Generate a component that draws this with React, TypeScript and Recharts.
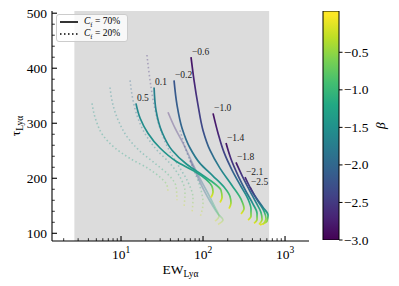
import React from 'react';
import { LineChart, Line, XAxis, YAxis, ReferenceArea, BarChart, Bar, Label } from 'recharts';

const FONT = '"Liberation Serif", "DejaVu Serif", serif';

// C_f = 70% tracks (solid), one label per track at its starting point
const solidLabels = ['0.5', '0.1', '−0.2', '−0.6', '−1.0', '−1.4', '−1.8', '−2.1', '−2.5'];
const solidEW = [
  [15.2, 17.1, 21.3, 29.9, 46.9, 77.7, 108.8, 128.8, 132.5, 125.2],
  [25.3, 26.7, 31.6, 41.9, 63.8, 100, 136.2, 165.8, 170.6, 161.2],
  [44.3, 48.2, 55.5, 69.4, 91.9, 132.5, 180.3, 213.3, 219.3, 207.5],
  [71.4, 77.7, 86.9, 100, 121.6, 161.2, 225.7, 290.6, 316.2, 290.6],
  [132.5, 152.4, 180.3, 225.7, 290.6, 354, 384.6, 384.6, 354],
  [190.7, 219.3, 267.3, 334.3, 407.4, 455.6, 455.6, 418.8],
  [252.2, 299.2, 363.9, 442.6, 509.3, 524.8, 481.9],
  [325.2, 384.6, 468.8, 554.6, 586.1, 539.5],
  [374.1, 442.6, 539.5, 620.9, 603, 495.5],
];
const solidTau = [
  [336, 309, 282, 255, 231, 213, 198, 185, 175, 165],
  [365, 324, 284, 251, 225, 205, 191, 178, 165, 156],
  [378, 333, 291, 255, 227, 204, 184, 167, 155, 145],
  [420, 378, 333, 287, 251, 218, 187, 162, 145, 135],
  [318, 282, 247, 215, 185, 162, 144, 131, 124],
  [264, 235, 205, 176, 153, 136, 125, 118],
  [229, 205, 180, 156, 138, 125, 116],
  [202, 180, 158, 140, 127, 116],
  [184, 165, 147, 133, 122, 115],
];
const solidBeta = [
  [-1.6, -1.55, -1.5, -1.45, -1.4, -1.3, -1.1, -0.7, -0.35, -0.05],
  [-1.7, -1.65, -1.6, -1.55, -1.45, -1.3, -1.0, -0.65, -0.3, -0.05],
  [-2.2, -2.1, -2.0, -1.85, -1.7, -1.5, -1.2, -0.8, -0.4, -0.05],
  [-2.85, -2.7, -2.5, -2.3, -2.0, -1.7, -1.35, -0.9, -0.45, -0.05],
  [-2.85, -2.7, -2.4, -2.1, -1.75, -1.35, -0.9, -0.45, -0.05],
  [-2.85, -2.6, -2.3, -1.9, -1.45, -0.95, -0.45, -0.05],
  [-2.8, -2.5, -2.1, -1.6, -1.0, -0.45, -0.05],
  [-2.7, -2.3, -1.8, -1.2, -0.5, -0.05],
  [-2.6, -2.2, -1.7, -1.1, -0.5, -0.05],
];

// C_f = 20% tracks (dotted, faded)
const dottedEW = [
  [4.43, 4.96, 6.03, 8.45, 12.9, 21.3, 29.9, 36.4, 37.4],
  [7.34, 7.99, 9.46, 12.2, 17.1, 26.0, 37.4, 46.9, 48.2],
  [12.9, 14.0, 16.1, 20.2, 27.5, 39.6, 52.5, 60.3, 58.6],
  [20.7, 22.6, 25.3, 29.9, 37.4, 49.6, 65.6, 75.5, 73.4],
  [52.5, 62.1, 75.5, 91.9, 100, 91.9],
];
const dottedTau = [
  [336, 305, 278, 255, 236, 218, 202, 187, 175],
  [365, 333, 302, 273, 249, 227, 207, 185, 160],
  [378, 342, 309, 278, 251, 227, 202, 175, 147],
  [424, 378, 333, 291, 255, 224, 193, 164, 138],
  [287, 251, 218, 185, 155, 129],
];
const dottedBeta = [
  [-1.4, -1.35, -1.3, -1.25, -1.2, -1.1, -0.9, -0.5, -0.1],
  [-1.6, -1.55, -1.5, -1.45, -1.35, -1.25, -1.0, -0.6, -0.1],
  [-2.0, -1.95, -1.85, -1.75, -1.6, -1.45, -1.15, -0.65, -0.1],
  [-2.6, -2.5, -2.35, -2.15, -1.9, -1.6, -1.2, -0.65, -0.1],
  [-2.4, -2.1, -1.7, -1.1, -0.5, -0.1],
];

// faded solid tracks
const faintEW = [
  [37.4, 45.6, 57.0, 73.4, 94.5, 118.4, 140.1, 156.7, 140.1],
  [69.4, 84.5, 102.8, 125.2, 152.4, 175.4, 152.4],
];
const faintTau = [
  [320, 291, 264, 229, 196, 169, 147, 131, 122],
  [233, 205, 178, 155, 135, 124, 116],
];
const faintBeta = [
  [-2.7, -2.6, -2.5, -2.3, -2.0, -1.6, -1.0, -0.5, -0.1],
  [-2.5, -2.3, -2.0, -1.6, -1.0, -0.45, -0.1],
];

const xMajor = [10, 100, 1000];
const xMinor = [2, 3, 4, 5, 6, 7, 8, 9, 20, 30, 40, 50, 60, 70, 80, 90, 200, 300, 400, 500, 600, 700, 800, 900];
const yMajor = [100, 200, 300, 400, 500];
const yMinor = [120, 140, 160, 180, 220, 240, 260, 280, 320, 340, 360, 380, 420, 440, 460, 480];
const shadedEW = [2.7, 640];
const cbTicks = [-3, -2.5, -2, -1.5, -1, -0.5];
const cbRange = [-3, 0.05];

const VIRIDIS = ['#440154', '#482475', '#414487', '#355f8d', '#2a788e', '#21918c', '#22a884', '#44bf70', '#7ad151', '#bddf26', '#fde725'];
const hex = (h: string) => [1, 3, 5].map((k) => parseInt(h.slice(k, k + 2), 16));
const viridis = (t: number) => {
  const c = Math.max(0, Math.min(1, t)) * 10;
  const i = Math.min(9, Math.floor(c));
  const f = c - i;
  const a = hex(VIRIDIS[i]);
  const b = hex(VIRIDIS[i + 1]);
  return `rgb(${a.map((v, k) => Math.round(v + (b[k] - v) * f)).join(',')})`;
};
const betaColor = (b: number) => viridis((b - cbRange[0]) / (cbRange[1] - cbRange[0]));

const build = (ew: number[][], tau: number[][], beta: number[][]) =>
  ew.map((xs, i) => xs.map((x, j) => ({ ew: x, tau: tau[i][j], beta: beta[i][j] })));

const solid = build(solidEW, solidTau, solidBeta);
const dotted = build(dottedEW, dottedTau, dottedBeta);
const faint = build(faintEW, faintTau, faintBeta);

const gradient = (id: string, pts: { tau: number; beta: number }[]) => {
  const top = pts[0].tau;
  const bot = pts[pts.length - 1].tau;
  return (
    <linearGradient key={id} id={id} x1="0" y1="0" x2="0" y2="1">
      {pts.map((p, k) => (
        <stop key={k} offset={(top - p.tau) / (top - bot)} stopColor={betaColor(p.beta)} />
      ))}
    </linearGradient>
  );
};

const BottomTick = (props: any) => {
  const { x, y, payload } = props;
  const major = xMajor.includes(payload.value);
  return (
    <g>
      <line x1={x} y1={y} x2={x} y2={y - (major ? 5 : 2.8)} stroke="#000" strokeWidth={major ? 1.1 : 0.8} />
      {major && (
        <text x={x} y={y + 18} textAnchor="middle" fontFamily={FONT} fontSize={13.5} fill="#000">
          10<tspan dy={-6} fontSize={9.5}>{Math.round(Math.log10(payload.value))}</tspan>
        </text>
      )}
    </g>
  );
};

const TopTick = (props: any) => {
  const { x, y, payload } = props;
  const major = xMajor.includes(payload.value);
  return <line x1={x} y1={y} x2={x} y2={y + (major ? 5 : 2.8)} stroke="#000" strokeWidth={major ? 1.1 : 0.8} />;
};

const LeftTick = (props: any) => {
  const { x, y, payload } = props;
  const major = yMajor.includes(payload.value);
  return (
    <g>
      <line x1={x} y1={y} x2={x + (major ? 5 : 2.8)} y2={y} stroke="#000" strokeWidth={major ? 1.1 : 0.8} />
      {major && (
        <text x={x - 5} y={y + 4.5} textAnchor="end" fontFamily={FONT} fontSize={13.5} fill="#000">
          {payload.value}
        </text>
      )}
    </g>
  );
};

const RightTick = (props: any) => {
  const { x, y, payload } = props;
  const major = yMajor.includes(payload.value);
  return <line x1={x} y1={y} x2={x - (major ? 5 : 2.8)} y2={y} stroke="#000" strokeWidth={major ? 1.1 : 0.8} />;
};

const CbTick = (props: any) => {
  const { x, y, payload } = props;
  return (
    <g>
      <line x1={x} y1={y} x2={x + 3.5} y2={y} stroke="#000" strokeWidth={1} />
      <text x={x + 5} y={y + 4.5} fontFamily={FONT} fontSize={13.5} fill="#000">
        {payload.value.toFixed(1).replace('-', '−')}
      </text>
    </g>
  );
};

const LegendBox = () => (
  <div
    style={{
      position: 'absolute',
      left: 56,
      top: 14,
      width: 72,
      height: 28,
      boxSizing: 'border-box',
      background: 'rgba(255,255,255,0.8)',
      border: '1px solid #cccccc',
      borderRadius: 3,
      fontFamily: FONT,
      fontSize: 9.5,
      color: '#000',
    }}
  >
    {[
      { dash: undefined, text: '70%', top: 0 },
      { dash: '1.5 2.5', text: '20%', top: 12 },
    ].map((r) => (
      <div key={r.text} style={{ position: 'absolute', left: 2, top: r.top, height: 14, display: 'flex', alignItems: 'center' }}>
        <svg width={20} height={6}>
          <line x1={1} y1={3} x2={19} y2={3} stroke="#000" strokeWidth={1.6} strokeDasharray={r.dash} />
        </svg>
        <span style={{ marginLeft: 5, whiteSpace: 'nowrap' }}>
          <i>C</i>
          <sub style={{ fontSize: 6.5 }}>f</sub> = {r.text}
        </span>
      </div>
    ))}
  </div>
);

export default function App() {
  return (
    <div style={{ position: 'absolute', left: 0, top: 0, width: 399, height: 286, background: '#fff' }}>
      <div style={{ position: 'absolute', left: 0, top: 0 }}>
        <LineChart width={320} height={286} margin={{ top: 11, right: 11, bottom: 15, left: 12 }}>
          <defs>
            {solid.map((pts, i) => gradient(`s${i}`, pts))}
            {dotted.map((pts, i) => gradient(`d${i}`, pts))}
            {faint.map((pts, i) => gradient(`f${i}`, pts))}
          </defs>
          <XAxis
            dataKey="ew"
            type="number"
            scale="log"
            domain={[1.44, 1960]}
            allowDataOverflow
            ticks={[...xMinor, ...xMajor]}
            interval={0}
            tickSize={0}
            tickMargin={0}
            tick={<BottomTick />}
            height={30}
            axisLine={{ stroke: '#000', strokeWidth: 1.1 }}
          >
            <Label
              content={(p: any) => (
                <text x={p.viewBox.x + p.viewBox.width / 2} y={p.viewBox.y + 33} textAnchor="middle" fontFamily={FONT} fontSize={13.5} fill="#000">
                  EW<tspan dy={3} fontSize={9.5}>Lyα</tspan>
                </text>
              )}
            />
          </XAxis>
          <XAxis
            xAxisId="top"
            orientation="top"
            dataKey="ew"
            type="number"
            scale="log"
            domain={[1.44, 1960]}
            allowDataOverflow
            ticks={[...xMinor, ...xMajor]}
            interval={0}
            tickSize={0}
            tickMargin={0}
            tick={<TopTick />}
            height={0}
            axisLine={{ stroke: '#000', strokeWidth: 1.1 }}
          />
          <YAxis
            type="number"
            domain={[86, 504]}
            allowDataOverflow
            ticks={[...yMinor, ...yMajor]}
            interval={0}
            tickSize={0}
            tickMargin={0}
            tick={<LeftTick />}
            width={40}
            axisLine={{ stroke: '#000', strokeWidth: 1.1 }}
          >
            <Label
              content={(p: any) => {
                const cx = p.viewBox.x + 8;
                const cy = p.viewBox.y + p.viewBox.height / 2;
                return (
                  <text x={cx} y={cy} transform={`rotate(-90 ${cx} ${cy})`} textAnchor="middle" fontFamily={FONT} fontSize={13.5} fill="#000">
                    τ<tspan dy={3} fontSize={9.5}>Lyα</tspan>
                  </text>
                );
              }}
            />
          </YAxis>
          <YAxis
            yAxisId="right"
            orientation="right"
            type="number"
            domain={[86, 504]}
            allowDataOverflow
            ticks={[...yMinor, ...yMajor]}
            interval={0}
            tickSize={0}
            tickMargin={0}
            tick={<RightTick />}
            width={0}
            axisLine={{ stroke: '#000', strokeWidth: 1.1 }}
          />
          <ReferenceArea x1={shadedEW[0]} x2={shadedEW[1]} fill="#dcdcdc" fillOpacity={1} stroke="none" />
          {dotted.map((pts, i) => (
            <Line
              key={`d${i}`}
              data={pts}
              dataKey="tau"
              type="monotoneY"
              stroke={`url(#d${i})`}
              strokeOpacity={0.35}
              strokeWidth={1.6}
              strokeDasharray="1.5 2.5"
              dot={false}
              activeDot={false}
              isAnimationActive={false}
            />
          ))}
          {faint.map((pts, i) => (
            <Line
              key={`f${i}`}
              data={pts}
              dataKey="tau"
              type="monotoneY"
              stroke={`url(#f${i})`}
              strokeOpacity={0.35}
              strokeWidth={1.7}
              dot={false}
              activeDot={false}
              isAnimationActive={false}
            />
          ))}
          {solid.map((pts, i) => (
            <Line
              key={`s${i}`}
              data={pts}
              dataKey="tau"
              type="monotoneY"
              stroke={`url(#s${i})`}
              strokeWidth={1.7}
              dot={false}
              activeDot={false}
              isAnimationActive={false}
              label={(p: any) =>
                p.index === 0 ? (
                  <text key={`l${i}`} x={p.x + 1} y={p.y - 2} fontFamily={FONT} fontSize={9.5} fill="#222">
                    {solidLabels[i]}
                  </text>
                ) : (
                  <g key={`e${i}-${p.index}`} />
                )
              }
            />
          ))}
        </LineChart>
        <LegendBox />
      </div>
      <div style={{ position: 'absolute', left: 300, top: 0 }}>
        <BarChart
          width={99}
          height={286}
          data={[{ name: 'beta', range: cbRange }]}
          margin={{ top: 11, right: 15, bottom: 46, left: 23 }}
          barCategoryGap={0}
        >
          <defs>
            <linearGradient id="cb" x1="0" y1="1" x2="0" y2="0">
              {VIRIDIS.map((c, k) => (
                <stop key={k} offset={(k / 10) * (3 / 3.05)} stopColor={c} />
              ))}
              <stop offset={1} stopColor={VIRIDIS[10]} />
            </linearGradient>
          </defs>
          <XAxis dataKey="name" hide />
          <YAxis
            orientation="right"
            type="number"
            domain={cbRange}
            allowDataOverflow
            ticks={cbTicks}
            interval={0}
            tickSize={0}
            tickMargin={0}
            tick={<CbTick />}
            width={45}
            axisLine={false}
          >
            <Label
              content={(p: any) => {
                const cx = p.viewBox.x + 46;
                const cy = p.viewBox.y + p.viewBox.height / 2;
                return (
                  <text x={cx} y={cy} transform={`rotate(-90 ${cx} ${cy})`} textAnchor="middle" fontFamily={FONT} fontStyle="italic" fontSize={13.5} fill="#000">
                    β
                  </text>
                );
              }}
            />
          </YAxis>
          <Bar dataKey="range" fill="url(#cb)" stroke="#000" strokeWidth={1} isAnimationActive={false} />
        </BarChart>
      </div>
    </div>
  );
}
